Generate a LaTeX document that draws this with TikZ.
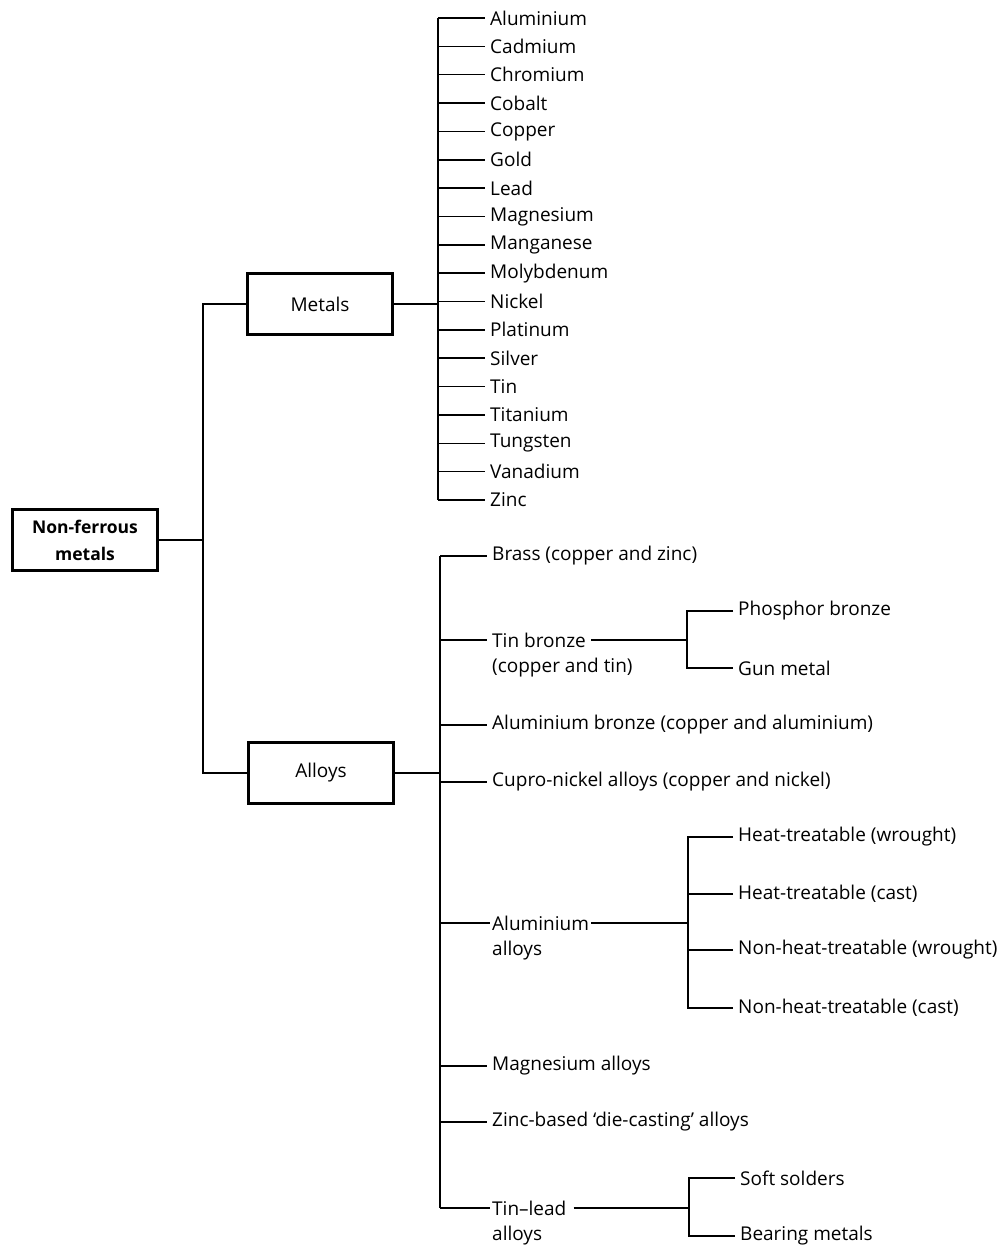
\documentclass[tikz,border=0pt]{standalone}
\usepackage{fontspec}
\setmainfont{Open Sans}
\begin{document}
\begin{tikzpicture}[x=1pt,y=-1pt,
  lbl/.style={anchor=west,inner xsep=5pt,inner ysep=1pt,font=\fontsize{19}{21}\selectfont},
  boxnode/.style={draw,line width=2.2pt,minimum width=145pt,minimum height=61pt,inner sep=2pt,font=\fontsize{19}{21}\selectfont,align=center},
  conn/.style={line width=1.5pt}]
\useasboundingbox (0,0) rectangle (1006,1248);

% boxes
\node[boxnode,font=\bfseries\fontsize{17.5}{27}\selectfont] (nf) at (85,540) {Non-ferrous\\metals};
\node[boxnode] (metals) at (320,304) {Metals};
\node[boxnode] (alloys) at (321,773) {Alloys};

\coordinate (spine) at (203,540);
\draw[conn] (nf.east) -- (spine);
\draw[conn] (metals.west) -- (metals.west -| spine) -- (alloys.west -| spine) -- (alloys.west);

% metals
\coordinate (mtop) at (438,18);
\coordinate (mbot) at (438,500);
\draw[conn] (mtop) -- (mbot);
\draw[conn] (metals.east) -- (metals.east -| mtop);
\foreach \n/\t [count=\i from 0] in {al/Aluminium,cd/Cadmium,cr/Chromium,co/Cobalt,cu/Copper,au/Gold,pb/Lead,mg/Magnesium,mn/Manganese,mo/Molybdenum,ni/Nickel,pt/Platinum,ag/Silver,sn/Tin,ti/Titanium,w/Tungsten,v/Vanadium,zn/Zinc}{
  \node[lbl] (m\n) at (485,{18+28.35*\i}) {\t};
  \draw[conn] (mtop |- m\n.west) -- (m\n.west);
}

% alloys
\coordinate (atop) at (440,556);
\coordinate (abot) at (440,1208);
\draw[conn] (atop) -- (abot);
\draw[conn] (alloys.east) -- (alloys.east -| atop);

\node[lbl] (brass) at (487,556) {Brass (copper and zinc)};
\node[lbl] (tb) at (487,640) {Tin bronze};
\node[lbl] (tb2) at (487,668) {(copper and tin)};
\node[lbl] (alb) at (487,725) {Aluminium bronze (copper and aluminium)};
\node[lbl] (cuni) at (487,782) {Cupro-nickel alloys (copper and nickel)};
\node[lbl,inner xsep=2pt] (ala) at (490,923) {Aluminium};
\node[lbl] (ala2) at (487,951) {alloys};
\node[lbl] (mga) at (487,1066) {Magnesium alloys};
\node[lbl] (zna) at (487,1122) {Zinc-based ‘die-casting’ alloys};
\node[lbl,inner xsep=2pt] (tl) at (490,1208) {Tin–lead};
\node[lbl] (tl2) at (487,1236) {alloys};

\foreach \n in {brass,tb,alb,cuni,ala,mga,zna,tl}{
  \draw[conn] (atop |- \n.west) -- (\n.west);
}

% tin bronze sub-branch
\node[lbl] (phb) at (733,611) {Phosphor bronze};
\node[lbl] (gun) at (733,668) {Gun metal};
\coordinate (tbx) at (687,640);
\draw[conn] (tb.east) -- (tbx);
\draw[conn] (phb.west) -| (gun.west -| tbx) -- (gun.west);

% aluminium alloys sub-branch
\node[lbl] (htw) at (733,837) {Heat-treatable (wrought)};
\node[lbl] (htc) at (733,894) {Heat-treatable (cast)};
\node[lbl] (nhw) at (733,950) {Non-heat-treatable (wrought)};
\node[lbl] (nhc) at (733,1008) {Non-heat-treatable (cast)};
\coordinate (alx) at (688,923);
\draw[conn] (ala.east) -- (alx);
\draw[conn] (htw.west) -| (nhc.west -| alx) -- (nhc.west);
\draw[conn] (htc.west) -- (htc.west -| alx);
\draw[conn] (nhw.west) -- (nhw.west -| alx);

% tin-lead sub-branch
\node[lbl] (sol) at (735,1178) {Soft solders};
\node[lbl] (bea) at (735,1236) {Bearing metals};
\coordinate (tlx) at (689,1208);
\draw[conn] (tl.east) ++(5,0) -- (tlx);
\draw[conn] (sol.west) -| (bea.west -| tlx) -- (bea.west);
\end{tikzpicture}
\end{document}
